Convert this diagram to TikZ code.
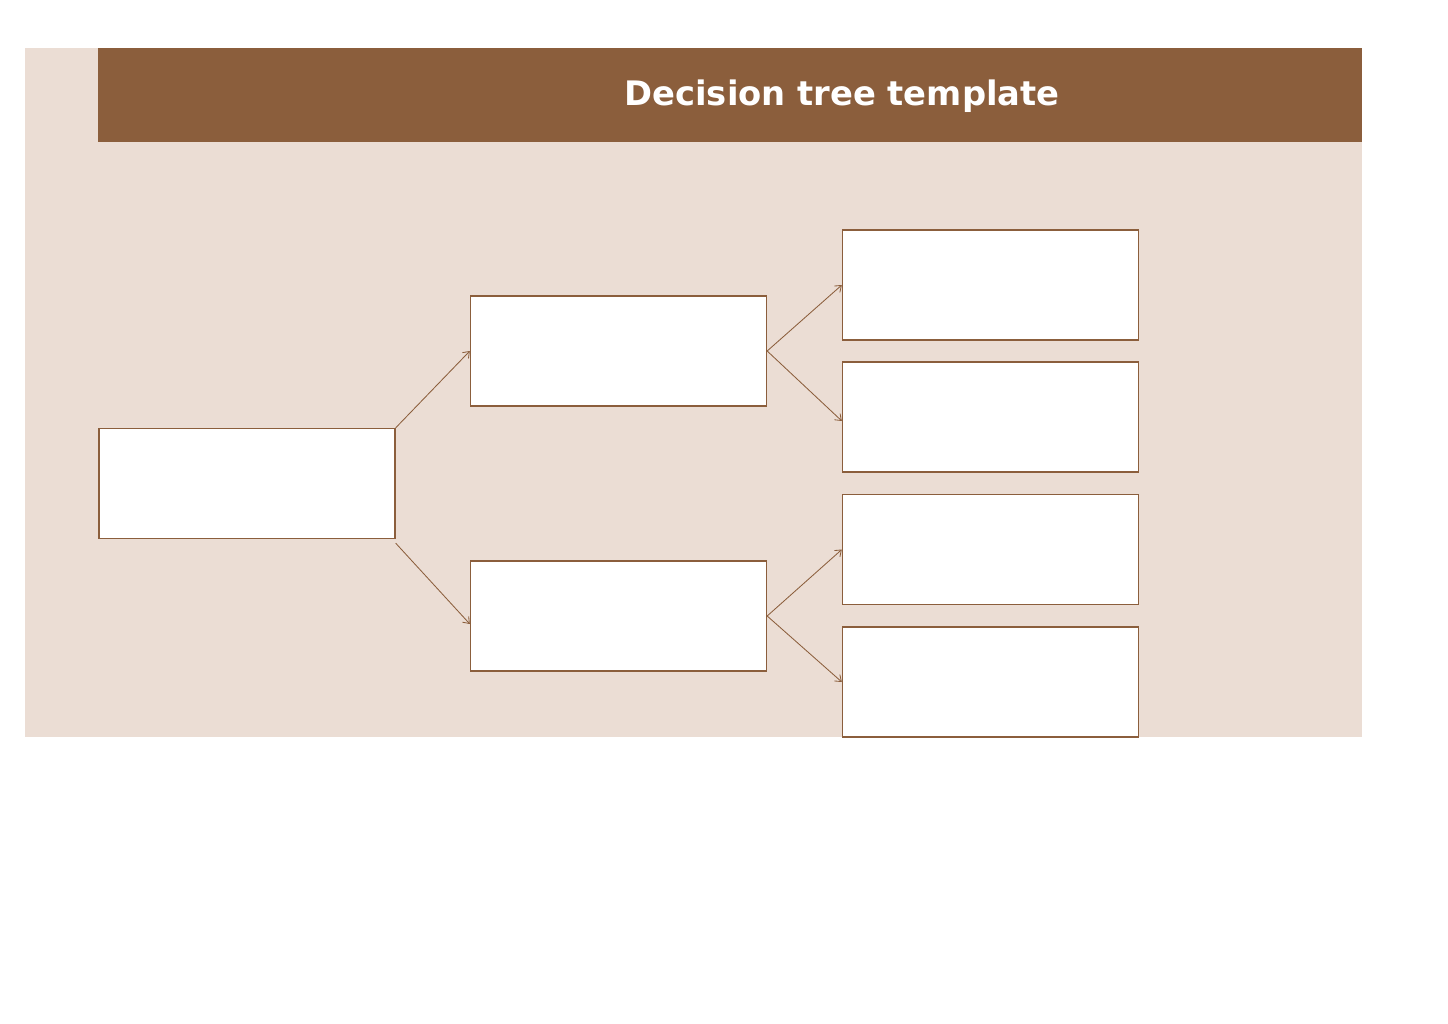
\documentclass[tikz,border=0pt]{standalone}
\usepackage{fontspec}
\setsansfont{DejaVu Sans}
\usetikzlibrary{arrows.meta, positioning}
\definecolor{bark}{HTML}{8B5E3C}
\definecolor{sand}{HTML}{EBDDD4}

\begin{document}
\begin{tikzpicture}[
                x=0.025cm, y=-0.025cm,
                box/.style={draw=bark, line width=0.9pt, fill=white, rectangle, minimum width=7.4cm, minimum height=2.75cm, inner sep=0pt},
                link/.style={draw=bark, line width=0.6pt, -{Straight Barb[length=4pt, width=6pt]}}
            ]

            % Page et fond
            \useasboundingbox (0,0) rectangle (1448,1024);
            \fill[sand] (25,48) rectangle (1362,737);
            \fill[bark] (98,48) rectangle (1362,142);
            \node[text=white, font=\sffamily\bfseries\fontsize{24}{28}\selectfont] (title) at (842,96) {Decision tree template};

            % Racine
            \node[box] (root) at (247,483.5) {};
            % Niveau 1
            \node[box] (upper) at (618.5,351) {};
            \node[box] (lower) at (618.5,616) {};
            % Niveau 2
            \node[box] (leafa) at (990.5,285) {};
            \node[box] (leafb) at (990.5,417) {};
            \node[box] (leafc) at (990.5,549.5) {};
            \node[box] (leafd) at (990.5,682) {};

            % Liaisons
            \draw[link] (root.north east) -- (upper.west);
            \draw[link] ([yshift=-0.1cm]root.south east) -- ([yshift=-0.2cm]lower.west);
            \draw[link] (upper.east) -- (leafa.west);
            \draw[link] (upper.east) -- ([yshift=-0.1cm]leafb.west);
            \draw[link] (lower.east) -- (leafc.west);
            \draw[link] (lower.east) -- (leafd.west);

        \end{tikzpicture}
\end{document}
